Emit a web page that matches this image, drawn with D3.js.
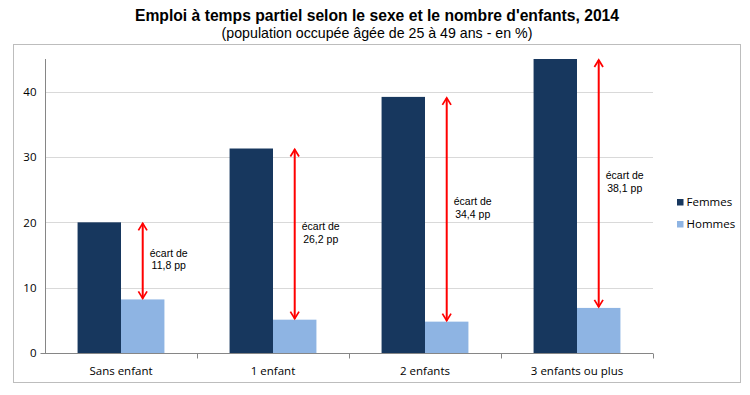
<!DOCTYPE html>
<html>
<head>
<meta charset="utf-8">
<script src="https://cdn.jsdelivr.net/npm/d3@7"></script>
<style>
  body { margin: 0; background: #fff; }
  .graph-title { font-family: 'Liberation Sans', Arial, sans-serif; font-weight: bold; font-size: 15.7px; text-anchor: middle; }
  .graph-sub { font-family: 'Liberation Sans', Arial, sans-serif; font-size: 14.2px; text-anchor: middle; }
  .tick text { font-family: 'Open Sans', 'Liberation Sans', sans-serif; font-size: 11.5px; fill: #000; }
  .gap-label { font-family: 'Liberation Sans', Arial, sans-serif; font-size: 10.5px; text-anchor: middle; }
  .legend text { font-family: 'Open Sans', 'Liberation Sans', sans-serif; font-size: 11.5px; }
</style>
</head>
<body>
<svg id="chart" width="750" height="395"></svg>
<script>
const categories = ['Sans enfant', '1 enfant', '2 enfants', '3 enfants ou plus'];
const femmes = [20.0, 31.3, 39.2, 45.0];
const hommes = [8.2, 5.1, 4.8, 6.9];
const gapLabels = ['11,8 pp', '26,2 pp', '34,4 pp', '38,1 pp'];
const seriesNames = ['Femmes', 'Hommes'];
const yTicks = [0, 10, 20, 30, 40];

const colors = ['#17375e', '#8eb4e3'];

const svg = d3.select('#chart');

// Title
svg.append('text').attr('class', 'graph-title').attr('x', 377).attr('y', 21)
  .text("Emploi à temps partiel selon le sexe et le nombre d'enfants, 2014");
svg.append('text').attr('class', 'graph-sub').attr('x', 377).attr('y', 38)
  .text('(population occupée âgée de 25 à 49 ans - en %)');

// Outer frame
svg.append('rect')
  .attr('x', 13.5).attr('y', 44.5).attr('width', 727).attr('height', 338)
  .attr('fill', 'none').attr('stroke', '#bdbdbd').attr('stroke-width', 1);

const plotLeft = 45, plotRight = 653, plotTop = 59, plotBottom = 353;

const x = d3.scaleBand().domain(categories).range([plotLeft, plotRight]).paddingInner(0).paddingOuter(0);
const y = d3.scaleLinear().domain([0, 45]).range([plotBottom, plotTop]);

// Gridlines
svg.append('g')
  .selectAll('line')
  .data(yTicks.slice(1))
  .join('line')
  .attr('x1', plotLeft).attr('x2', plotRight)
  .attr('y1', (d) => Math.round(y(d)) + 0.5).attr('y2', (d) => Math.round(y(d)) + 0.5)
  .attr('stroke', '#d9d9d9');

// Y axis
const yAxis = svg.append('g')
  .attr('transform', 'translate(' + (plotLeft + 0.5) + ',0)')
  .call(d3.axisLeft(y).tickValues(yTicks).tickSize(5).tickSizeOuter(0).tickPadding(4));
yAxis.select('.domain').attr('stroke', '#868686').attr('d', 'M0,' + plotBottom + 'V' + plotTop);
yAxis.selectAll('.tick line').attr('stroke', '#868686').attr('x2', (d) => (d === 0 ? -5 : 0));

// X axis
const xAxis = svg.append('g')
  .attr('transform', 'translate(0,' + (plotBottom + 0.5) + ')')
  .call(d3.axisBottom(x).tickSize(0).tickPadding(13));
xAxis.select('.domain').attr('stroke', '#868686').attr('d', 'M' + plotLeft + ',0H' + plotRight);
xAxis.append('g')
  .selectAll('line')
  .data(categories)
  .join('line')
  .attr('x1', (d) => Math.round(x(d) + x.bandwidth()) + 0.5)
  .attr('x2', (d) => Math.round(x(d) + x.bandwidth()) + 0.5)
  .attr('y1', 0).attr('y2', 5)
  .attr('stroke', '#868686');

// Bars
const inner = d3.scaleBand().domain(seriesNames).range([0, x.bandwidth()]).paddingOuter(0.75).paddingInner(0);
const rows = categories.map((c, i) => ({ cat: c, values: [femmes[i], hommes[i]] }));

const groups = svg.append('g').selectAll('g')
  .data(rows)
  .join('g')
  .attr('transform', (d) => 'translate(' + x(d.cat) + ',0)');

groups.selectAll('rect')
  .data((d) => d.values.map((v, j) => ({ name: seriesNames[j], v: v, j: j })))
  .join('rect')
  .attr('x', (d) => inner(d.name))
  .attr('width', inner.bandwidth())
  .attr('y', (d) => y(d.v))
  .attr('height', (d) => plotBottom - y(d.v))
  .attr('fill', (d) => colors[d.j]);

// Gap arrows
const defs = svg.append('defs');
defs.append('marker')
  .attr('id', 'head')
  .attr('viewBox', '0 0 10 10')
  .attr('refX', 8).attr('refY', 5)
  .attr('markerWidth', 5.4).attr('markerHeight', 5.4)
  .attr('orient', 'auto-start-reverse')
  .attr('markerUnits', 'strokeWidth')
  .append('path')
  .attr('d', 'M1.5,1 L8,5 L1.5,9')
  .attr('fill', 'none')
  .attr('stroke', '#ff0000')
  .attr('stroke-width', 1.6);

const arrowX = inner('Hommes') + inner.bandwidth() / 2;

groups.append('line')
  .attr('x1', arrowX)
  .attr('x2', arrowX)
  .attr('y1', (d) => y(d.values[0]) + 1)
  .attr('y2', (d) => y(d.values[1]) - 1)
  .attr('stroke', '#ff0000')
  .attr('stroke-width', 2)
  .attr('marker-start', 'url(#head)')
  .attr('marker-end', 'url(#head)');

const lbl = groups.append('text')
  .attr('class', 'gap-label')
  .attr('x', arrowX + 26)
  .attr('y', (d) => (y(d.values[0]) + y(d.values[1])) / 2);
lbl.append('tspan').attr('x', arrowX + 26).attr('dy', -4).text('écart de');
lbl.append('tspan').attr('x', arrowX + 26).attr('dy', 12.5)
  .text((d, i) => gapLabels[i]);

// Legend
const legend = svg.append('g').attr('class', 'legend').attr('transform', 'translate(677,202)');
const items = legend.selectAll('g')
  .data(seriesNames)
  .join('g')
  .attr('transform', (d, i) => 'translate(0,' + i * 22 + ')');
items.append('rect').attr('width', 6.5).attr('height', 6.5).attr('y', -3)
  .attr('fill', (d, i) => colors[i]);
items.append('text').attr('x', 9.5).attr('y', 4).text((d) => d);
</script>
</body>
</html>
